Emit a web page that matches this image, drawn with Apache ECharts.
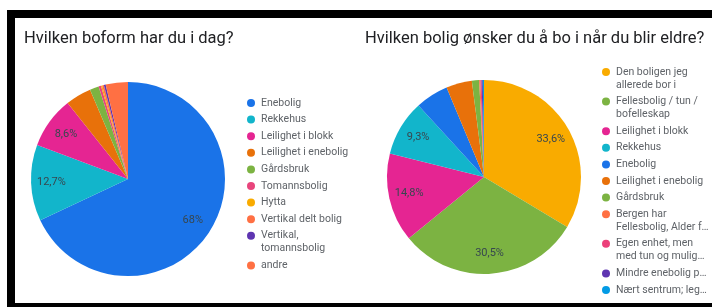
<!DOCTYPE html>
<html>
<head>
<meta charset="utf-8">
<script src="https://cdn.jsdelivr.net/npm/echarts@6/dist/echarts.min.js"></script>
<style>
html,body{margin:0;padding:0;background:#fff;}
#chart{width:712px;height:307px;}
</style>
</head>
<body>
<div id="chart"></div>
<script>
// venstre diagram: "Hvilken boform har du i dag?"
var naaNavn = ["Enebolig", "Rekkehus", "Leilighet i blokk", "Leilighet i enebolig", "Gårdsbruk",
    "Tomannsbolig", "Hytta", "Vertikal delt bolig", "Vertikal, tomannsbolig", "andre"];
var naaVerdi = [68, 12.7, 8.6, 4.3, 1.5, 0.4, 0.2, 0.3, 0.3, 3.7];

// høyre diagram: "Hvilken bolig ønsker du å bo i når du blir eldre?"
var onskeNavn = ["Den boligen jeg allerede bor i", "Fellesbolig / tun / bofelleskap", "Leilighet i blokk",
    "Rekkehus", "Enebolig", "Leilighet i enebolig", "Gårdsbruk", "Bergen har Fellesbolig, Alder f…",
    "Egen enhet, men med tun og mulig…", "Mindre enebolig p…", "Nært sentrum; leg…"];
var onskeVerdi = [33.6, 30.5, 14.8, 9.3, 5.5, 4.3, 1.2, 0.2, 0.2, 0.2, 0.2];

// farger
var naaFarger = ["#1a73e8", "#12b5cb", "#e52592", "#e8710a", "#7cb342", "#e8457c", "#f9ab00", "#ff7043", "#5e35b1", "#ff7043"];
var onskeFarger = ["#f9ab00", "#7cb342", "#e52592", "#12b5cb", "#1a73e8", "#e8710a", "#7cb342", "#ff7043", "#ec407a", "#5e35b1", "#039be5"];

// linjeskift i legenden
var legendeTekst = {
    "Vertikal, tomannsbolig": ["Vertikal,", "tomannsbolig"],
    "Den boligen jeg allerede bor i": ["Den boligen jeg", "allerede bor i"],
    "Fellesbolig / tun / bofelleskap": ["Fellesbolig / tun /", "bofelleskap"],
    "Bergen har Fellesbolig, Alder f…": ["Bergen har", "Fellesbolig, Alder f…"],
    "Egen enhet, men med tun og mulig…": ["Egen enhet, men", "med tun og mulig…"]
};

var font = "Roboto";
var R = 97;

function lagData(navn, verdi, farger) {
    var d = [];
    for (var i = 0; i < navn.length; i++) {
        d.push({name: navn[i], value: verdi[i], itemStyle: {color: farger[i]}});
    }
    return d;
}

function etikett(p) {
    return String(p.value).replace(".", ",") + "%";
}

function etikettSerie(data, senter) {
    // gjennomsiktig ring slik at tallene havner ca. 3/4 ut i sektoren
    return {
        type: "pie", center: senter, radius: [R * 0.52, R], silent: true,
        startAngle: 90, clockwise: true,
        data: data.map(function (d) {
            return {
                name: d.name, value: d.value, itemStyle: {color: "rgba(0,0,0,0)"},
                label: {show: d.value >= 8}
            };
        }),
        label: {
            position: "inside", formatter: etikett, color: "#37474f",
            fontFamily: font, fontSize: 11
        },
        labelLine: {show: false},
        emphasis: {disabled: true}
    };
}

// legende med prikken laget som rik tekst, så den står ved første linje
function lagLegende(navn, farger, venstre, topp) {
    var rich = {
        t: {fontFamily: font, fontSize: 10.5, color: "#5f6368", lineHeight: 13},
        g: {width: 6, lineHeight: 13},
        s: {width: 14, lineHeight: 13}
    };
    for (var i = 0; i < farger.length; i++) {
        rich["c" + i] = {width: 8, height: 8, borderRadius: 4, backgroundColor: farger[i], lineHeight: 13};
    }
    return {
        orient: "vertical", left: venstre, top: topp, data: navn,
        icon: "circle", itemWidth: 0, itemHeight: 0, itemGap: 3.6,
        formatter: function (n) {
            var i = navn.indexOf(n);
            var linjer = legendeTekst[n] || [n];
            var s = "{c" + i + "|}{g|}{t|" + linjer[0] + "}";
            for (var k = 1; k < linjer.length; k++) {
                s += "\n{s|}{t|" + linjer[k] + "}";
            }
            return s;
        },
        textStyle: {fontFamily: font, fontSize: 10.5, color: "#5f6368", lineHeight: 13, rich: rich}
    };
}

var naaData = lagData(naaNavn, naaVerdi, naaFarger);
var onskeData = lagData(onskeNavn, onskeVerdi, onskeFarger);

var chart = echarts.init(document.getElementById("chart"));
chart.setOption({
    backgroundColor: "#fff",
    animation: false,
    title: [
        {text: "Hvilken boform har du i dag?", left: 19, top: 25,
            textStyle: {fontFamily: font, fontSize: 16.5, fontWeight: "normal", color: "#202124"}},
        {text: "Hvilken bolig ønsker du å bo i når du blir eldre?", left: 360, top: 25,
            textStyle: {fontFamily: font, fontSize: 16.5, fontWeight: "normal", color: "#202124"}}
    ],
    legend: [
        lagLegende(naaNavn, naaFarger, 237, 91.5),
        lagLegende(onskeNavn, onskeFarger, 592, 60.5)
    ],
    graphic: [
        {type: "rect", shape: {x: 7, y: 10, width: 705, height: 8}, style: {fill: "#000"}},
        {type: "rect", shape: {x: 7, y: 10, width: 8, height: 297}, style: {fill: "#000"}},
        {type: "rect", shape: {x: 7, y: 303, width: 705, height: 4}, style: {fill: "#000"}}
    ],
    series: [
        {type: "pie", center: [128, 179], radius: R, startAngle: 90, clockwise: true,
            data: naaData, label: {show: false}, labelLine: {show: false}},
        {type: "pie", center: [484, 177], radius: R, startAngle: 90, clockwise: true,
            data: onskeData, label: {show: false}, labelLine: {show: false}},
        etikettSerie(naaData, [128, 179]),
        etikettSerie(onskeData, [484, 177])
    ]
});
</script>
</body>
</html>
